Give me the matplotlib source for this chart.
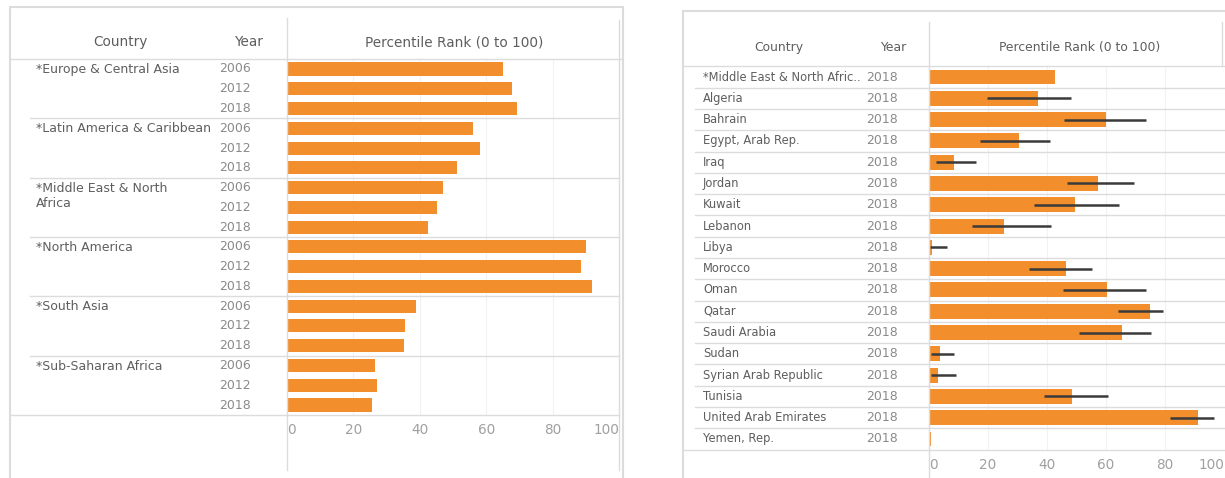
import matplotlib
matplotlib.use("Agg")
import matplotlib.pyplot as plt
from matplotlib.lines import Line2D
from matplotlib.patches import Rectangle
from matplotlib.transforms import blended_transform_factory
import numpy as np

plt.rcParams['font.family'] = ['DejaVu Sans']

W, H = 1225, 478

# left panel: regions x years
regions = ['*Europe & Central Asia', '*Latin America & Caribbean', '*Middle East & North\nAfrica',
           '*North America', '*South Asia', '*Sub-Saharan Africa']
years = ['2006', '2012', '2018']
rank_2006 = [65.0, 55.9, 47.1, 90.1, 38.9, 26.4]
rank_2012 = [67.7, 58.0, 45.3, 88.5, 35.6, 27.1]
rank_2018 = [69.2, 51.2, 42.4, 91.8, 35.2, 25.7]

# right panel: MENA countries 2018 with ranges
countries = ['*Middle East & North Afric..', 'Algeria', 'Bahrain', 'Egypt, Arab Rep.', 'Iraq', 'Jordan',
             'Kuwait', 'Lebanon', 'Libya', 'Morocco', 'Oman', 'Qatar', 'Saudi Arabia', 'Sudan',
             'Syrian Arab Republic', 'Tunisia', 'United Arab Emirates', 'Yemen, Rep.']
rank = [42.7, 37.1, 59.9, 30.5, 8.5, 57.4, 49.5, 25.4, 1.0, 46.6, 60.2, 75.0, 65.4, 3.6, 2.9, 48.4, 91.1, 0.6]
lower = [np.nan, 19.8, 45.7, 17.2, 2.4, 46.9, 35.6, 14.7, 0.3, 34.0, 45.5, 63.9, 51.0, 0.6, 0.6, 38.9, 81.8, np.nan]
upper = [np.nan, 48.2, 73.5, 40.9, 15.8, 69.4, 64.3, 41.3, 6.1, 55.2, 73.7, 79.3, 75.4, 8.6, 9.1, 60.6, 96.5, np.nan]

ORANGE = '#F28E2B'
TXT = '#5e5e5e'
YR = '#8a8a8a'
LINE = '#dcdcdc'


def fx(x):
    return x / W


def fy(y):
    return 1 - y / H


fig = plt.figure(figsize=(W / 100, H / 100), dpi=100)


def hline(y, x0, x1, color=LINE, lw=1.0):
    fig.add_artist(Line2D([fx(x0), fx(x1)], [fy(y), fy(y)], color=color, lw=lw, transform=fig.transFigure))


def vline(x, y0, y1, color=LINE, lw=1.0):
    fig.add_artist(Line2D([fx(x), fx(x)], [fy(y0), fy(y1)], color=color, lw=lw, transform=fig.transFigure))


def setup_axis(ax, n):
    ax.set_xlim(0, 100)
    ax.set_ylim(n - 0.5, -0.5)
    for s in ax.spines.values():
        s.set_visible(False)
    ax.set_yticks([])
    ticks = [0, 20, 40, 60, 80, 100]
    ax.set_xticks(ticks)
    ax.set_xticklabels([str(t) for t in ticks], color='#a0a0a0', fontsize=9.8)
    labs = ax.get_xticklabels()
    labs[0].set_ha('left')
    labs[-1].set_ha('right')
    ax.tick_params(axis='x', length=0, pad=6)
    ax.grid(axis='x', color='#f2f2f2', lw=0.8)
    ax.set_axisbelow(True)


# ---------- left panel ----------
top_l, bot_l = 59.1, 414.9
axl = fig.add_axes([fx(287), fy(bot_l), fx(619 - 287), (bot_l - top_l) / H])
n_l = len(regions) * len(years)
setup_axis(axl, n_l)
vals_l = []
for i in range(len(regions)):
    vals_l += [rank_2006[i], rank_2012[i], rank_2018[i]]
ypos_l = np.arange(n_l)
axl.barh(ypos_l, vals_l, height=0.66, color=ORANGE)

trl = blended_transform_factory(fig.transFigure, axl.transData)
for i, r in enumerate(regions):
    axl.text(fx(36), 3 * i - 0.3, r, transform=trl, ha='left', va='top', fontsize=9.0, color=TXT,
             linespacing=1.2)
    for j, yr in enumerate(years):
        axl.text(fx(251), 3 * i + j, yr, transform=trl, ha='right', va='center', fontsize=9.0,
                 color=YR)
    if i > 0:
        axl.plot([fx(30), fx(619)], [3 * i - 0.5, 3 * i - 0.5], transform=trl, color=LINE, lw=1.0,
                 clip_on=False)

hline(top_l, 10, 623)
hline(bot_l, 10, 619)
vline(287, 18, 470)
vline(619, 20, 470)
fig.add_artist(Rectangle((fx(10), fy(480)), fx(623 - 10), (480 - 7) / H, fill=False, edgecolor=LINE,
                         lw=1.5, transform=fig.transFigure))
fig.text(fx(120.5), fy(42), 'Country', ha='center', va='center', fontsize=9.8, color=TXT)
fig.text(fx(263), fy(42), 'Year', ha='right', va='center', fontsize=9.8, color=TXT)
fig.text(fx(454), fy(42), 'Percentile Rank (0 to 100)', ha='center', va='center', fontsize=9.8, color=TXT)

# ---------- right panel ----------
top_r, bot_r = 66.4, 449.6
axr = fig.add_axes([fx(929), fy(bot_r), fx(1224 - 929), (bot_r - top_r) / H])
n_r = len(countries)
setup_axis(axr, n_r)
ypos_r = np.arange(n_r)
axr.barh(ypos_r, rank, height=0.7, color=ORANGE)
axr.hlines(ypos_r, lower, upper, color='#3a3a3a', lw=1.8)

trr = blended_transform_factory(fig.transFigure, axr.transData)
for i, c in enumerate(countries):
    axr.text(fx(703), i, c, transform=trr, ha='left', va='center', fontsize=8.3, color=TXT)
    axr.text(fx(898), i, '2018', transform=trr, ha='right', va='center', fontsize=9.0, color=YR)
    if i > 0:
        axr.plot([fx(695), fx(1225)], [i - 0.5, i - 0.5], transform=trr, color=LINE, lw=1.0, clip_on=False)

hline(top_r, 683, 1225)
hline(bot_r, 683, 1225)
vline(929, 22, 480)
vline(1222, 22, 66)
fig.add_artist(Rectangle((fx(683), fy(480)), fx(1240 - 683), (480 - 11) / H, fill=False, edgecolor=LINE,
                         lw=1.5, transform=fig.transFigure))
fig.text(fx(779), fy(47), 'Country', ha='center', va='center', fontsize=8.9, color=TXT)
fig.text(fx(906), fy(47), 'Year', ha='right', va='center', fontsize=8.9, color=TXT)
fig.text(fx(1080), fy(47), 'Percentile Rank (0 to 100)', ha='center', va='center', fontsize=8.9, color=TXT)

fig.savefig('out.png', dpi=100)
